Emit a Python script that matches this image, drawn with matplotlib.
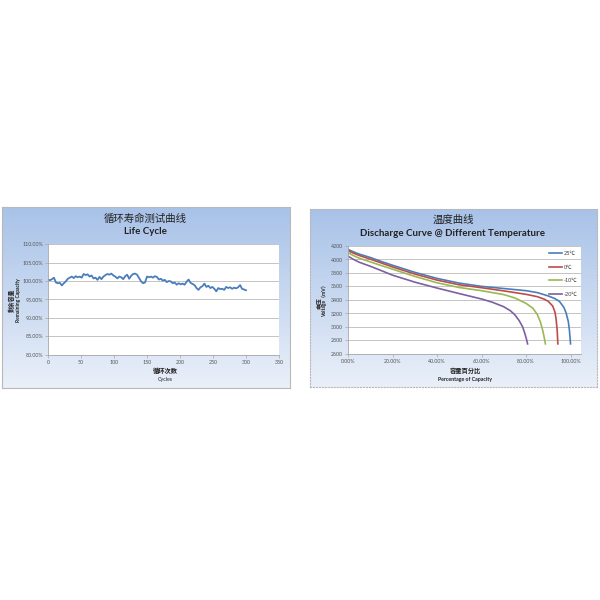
import matplotlib
matplotlib.use("Agg")
import matplotlib.pyplot as plt
import numpy as np

plt.rcParams['font.family'] = ['Lato', 'Noto Sans CJK SC', 'DejaVu Sans']

# ---------------- data: life cycle ----------------
cycles = [0, 3, 6, 9, 12, 15, 18, 21, 24, 27, 30, 33, 36, 39, 42, 45, 48, 51, 54, 57,
          60, 63, 66, 69, 72, 75, 78, 81, 84, 87, 90, 93, 96, 99, 102, 105, 108, 111, 114, 117,
          120, 123, 126, 129, 132, 135, 138, 141, 144, 147, 150, 153, 156, 159, 162, 165, 168, 171, 174, 177,
          180, 183, 186, 189, 192, 195, 198, 201, 204, 207, 210, 213, 216, 219, 222, 225, 228, 231, 234, 237,
          240, 243, 246, 249, 252, 255, 258, 261, 264, 267, 270, 273, 276, 279, 282, 285, 288, 291, 294, 297, 300]
capacity = [100.4, 100.2, 100.5, 100.9, 99.6, 99.4, 99.5, 98.8, 99.4, 99.9,
            100.6, 100.9, 101.2, 100.8, 101.3, 101.0, 101.2, 100.9, 101.9, 101.6,
            101.8, 101.2, 101.5, 100.7, 100.9, 100.3, 101.1, 100.5, 101.2, 101.6,
            101.9, 101.7, 102.0, 101.5, 101.2, 100.7, 101.2, 101.0, 100.5, 101.3,
            101.7, 100.6, 101.4, 101.9, 102.0, 101.7, 100.8, 99.9, 99.4, 99.6,
            101.2, 101.0, 101.2, 100.9, 101.3, 101.1, 100.4, 100.6, 100.1, 100.3,
            99.7, 100.0, 99.9, 99.4, 99.6, 99.0, 99.4, 99.1, 99.3, 99.0,
            99.8, 100.4, 99.5, 99.2, 98.9, 98.1, 97.6, 98.3, 98.6, 99.3,
            98.4, 98.7, 98.1, 98.4, 97.9, 97.2, 98.1, 97.8, 97.9, 97.6,
            98.4, 98.1, 98.3, 97.9, 98.2, 98.0, 98.3, 98.9, 97.9, 97.7, 97.5]
life_yticks = [80, 85, 90, 95, 100, 105, 110]
life_ytick_labels = ['80.00%', '85.00%', '90.00%', '95.00%', '100.00%', '105.00%', '110.00%']
life_xticks = [0, 50, 100, 150, 200, 250, 300, 350]

# ---------------- data: discharge curves ----------------
temps = ['25℃', '0℃', '-10℃', '-20℃']
cap_25 = [0, 0.02, 0.05, 0.10, 0.15, 0.20, 0.30, 0.40, 0.50, 0.60, 0.70, 0.80, 0.85, 0.90, 0.93, 0.95, 0.97, 0.98, 0.99, 0.995, 1.00]
volt_25 = [4150, 4120, 4080, 4030, 3970, 3915, 3810, 3720, 3650, 3602, 3570, 3538, 3510, 3460, 3420, 3380, 3290, 3210, 3080, 2950, 2750]
cap_0 = [0, 0.02, 0.05, 0.10, 0.15, 0.20, 0.30, 0.40, 0.50, 0.60, 0.70, 0.80, 0.85, 0.88, 0.90, 0.92, 0.93, 0.935, 0.94, 0.943]
volt_0 = [4130, 4100, 4060, 4005, 3948, 3890, 3785, 3695, 3625, 3582, 3535, 3484, 3450, 3415, 3380, 3310, 3220, 3120, 2950, 2750]
cap_m10 = [0, 0.02, 0.05, 0.10, 0.15, 0.20, 0.30, 0.40, 0.50, 0.60, 0.70, 0.75, 0.80, 0.83, 0.85, 0.865, 0.875, 0.882, 0.887]
volt_m10 = [4100, 4065, 4020, 3965, 3910, 3857, 3750, 3655, 3585, 3538, 3480, 3430, 3350, 3280, 3190, 3070, 2950, 2840, 2750]
cap_m20 = [0, 0.02, 0.05, 0.10, 0.15, 0.20, 0.30, 0.40, 0.50, 0.60, 0.65, 0.70, 0.73, 0.75, 0.77, 0.785, 0.795, 0.802, 0.807]
volt_m20 = [4050, 4010, 3960, 3900, 3835, 3768, 3665, 3577, 3495, 3415, 3365, 3300, 3240, 3180, 3090, 3000, 2900, 2820, 2750]
dis_yticks = [2600, 2800, 3000, 3200, 3400, 3600, 3800, 4000, 4200]
dis_xticks = [0, 0.2, 0.4, 0.6, 0.8, 1.0]
dis_xtick_labels = ['0.00%', '20.00%', '40.00%', '60.00%', '80.00%', '100.00%']
curve_colors = ['#4a7ebb', '#be4b48', '#98b954', '#7d60a0']

W = H = 600.0
fig = plt.figure(figsize=(6, 6), dpi=100)
fig.patch.set_facecolor('white')


def px_rect(x0, y0, x1, y1):
    return [x0 / W, 1 - y1 / H, (x1 - x0) / W, (y1 - y0) / H]


def fx(x):
    return x / W


def fy(y):
    return 1 - y / H


def panel(x0, y0, x1, y1, border_style):
    bg = fig.add_axes(px_rect(x0, y0, x1, y1), zorder=0)
    top = np.array([168, 194, 232]) / 255.0
    bot = np.array([234, 240, 249]) / 255.0
    t = np.linspace(0, 1, 256)[:, None]
    grad = top[None, :] * (1 - t) + bot[None, :] * t
    bg.imshow(grad[:, None, :], aspect='auto', extent=[0, 1, 0, 1])
    bg.set_xticks([])
    bg.set_yticks([])
    for s in bg.spines.values():
        s.set_color('#b8b8b8')
        s.set_linewidth(0.8)
        s.set_linestyle(border_style)
    return bg


def style_axes(ax):
    ax.set_facecolor('white')
    for side in ['top', 'right']:
        ax.spines[side].set_visible(False)
    for side in ['left', 'bottom']:
        ax.spines[side].set_color('#a6a6a6')
        ax.spines[side].set_linewidth(0.6)
    ax.tick_params(axis='both', labelsize=3.8, colors='#a6a6a6', labelcolor='#555555',
                   length=2, width=0.5, pad=1.5)
    ax.grid(axis='y', color='#c4c4c4', linewidth=0.7)
    ax.set_axisbelow(True)


# ---------------- left panel ----------------
panel(2, 207, 290, 388, '-')
ax1 = fig.add_axes(px_rect(48, 244, 279, 355), zorder=2)
style_axes(ax1)
ax1.plot(cycles, capacity, color='#4a7ebb', linewidth=1.3)
ax1.set_xlim(0, 350)
ax1.set_ylim(80, 110)
ax1.set_yticks(life_yticks)
ax1.set_yticklabels(life_ytick_labels)
ax1.set_xticks(life_xticks)

fig.text(fx(145), fy(219), '循环寿命测试曲线', ha='center', va='center', fontsize=7.5,
         family=['Noto Sans CJK SC'], color='#222222')
fig.text(fx(145), fy(232), 'Life Cycle', ha='center', va='center', fontsize=7,
         fontweight='bold', color='#222222')
fig.text(fx(12), fy(300), '剩余容量', ha='center', va='center', rotation=90, fontsize=4.2,
         fontweight='bold', family=['Noto Sans CJK SC'], color='#222222')
fig.text(fx(18.5), fy(300), 'Remaining Capacity', ha='center', va='center', rotation=90,
         fontsize=3.6, fontweight='bold', color='#222222')
fig.text(fx(165), fy(371), '循环次数', ha='center', va='center', fontsize=4.5,
         fontweight='bold', family=['Noto Sans CJK SC'], color='#222222')
fig.text(fx(165), fy(379), 'Cycles', ha='center', va='center', fontsize=3.8, color='#222222')

# ---------------- right panel ----------------
panel(310, 209, 597, 387, ':')
ax2 = fig.add_axes(px_rect(348, 246, 581, 354), zorder=2)
style_axes(ax2)
curves = [(cap_25, volt_25), (cap_0, volt_0), (cap_m10, volt_m10), (cap_m20, volt_m20)]
for (cx, cy), lab, col in zip(curves, temps, curve_colors):
    ax2.plot(cx, cy, color=col, linewidth=1.2, label=lab)
ax2.set_xlim(0, 1.047)
ax2.set_ylim(2600, 4200)
ax2.set_yticks(dis_yticks)
ax2.set_xticks(dis_xticks)
ax2.set_xticklabels(dis_xtick_labels)
leg = ax2.legend(loc='upper right', bbox_to_anchor=(1.0, 0.985), frameon=False,
                 fontsize=4, labelspacing=1.55, handlelength=2.4, handletextpad=0.3,
                 borderaxespad=0.2, prop={'family': ['Lato', 'Noto Sans CJK SC'], 'size': 4})
for t in leg.get_texts():
    t.set_color('#444444')

fig.text(fx(453), fy(220), '温度曲线', ha='center', va='center', fontsize=7.5,
         family=['Noto Sans CJK SC'], color='#222222')
fig.text(fx(453), fy(233), 'Discharge Curve @ Different Temperature', ha='center',
         va='center', fontsize=7, fontweight='bold', color='#222222')
fig.text(fx(319), fy(303), '电压', ha='center', va='center', rotation=90, fontsize=4.2,
         fontweight='bold', family=['Noto Sans CJK SC'], color='#222222')
fig.text(fx(324.5), fy(300), 'Voltage（mV）', ha='center', va='center', rotation=90,
         fontsize=3.6, fontweight='bold', family=['Lato', 'Noto Sans CJK SC'], color='#222222')
fig.text(fx(465), fy(371), '容量百分比', ha='center', va='center', fontsize=4.5,
         fontweight='bold', family=['Noto Sans CJK SC'], color='#222222')
fig.text(fx(465), fy(379), 'Percentage of Capacity', ha='center', va='center',
         fontsize=3.8, fontweight='bold', color='#222222')

fig.savefig('out.png', dpi=100, facecolor='white')
